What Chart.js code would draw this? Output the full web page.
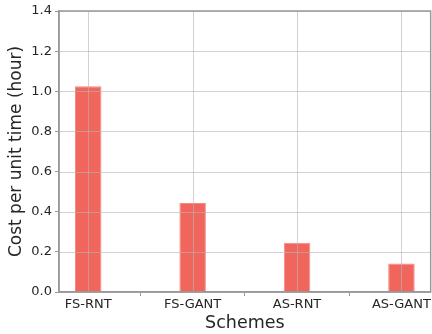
<!DOCTYPE html>
<html lang="en">
  <head>
    <meta charset="UTF-8" />
    <title>Cost per unit time</title>
    <script src="https://cdn.jsdelivr.net/npm/chart.js"></script>
    <style>
      body { margin: 0; background: #fff; }
      #wrap { width: 432px; height: 334px; }
    </style>
  </head>
  <body>
    <div id="wrap"><canvas id="chart"></canvas></div>
    <script>
      // data
      var schemes = ["FS-RNT", "FS-GANT", "AS-RNT", "AS-GANT"];
      var cost = [1.025, 0.443, 0.245, 0.142];
      var yTicks = [0, 0.2, 0.4, 0.6, 0.8, 1.0, 1.2, 1.4];

      var points = schemes.map(function (s, i) { return { x: i, y: cost[i] }; });

      // grid over the bars (like matplotlib), plus top/right spines
      var overlay = {
        id: "overlay",
        afterDatasetsDraw: function (chart) {
          var a = chart.chartArea, ctx = chart.ctx;
          var xs = chart.scales.x, ys = chart.scales.y;
          ctx.save();
          ctx.strokeStyle = "rgba(180,180,180,0.6)";
          ctx.lineWidth = 1;
          ctx.beginPath();
          schemes.forEach(function (n, i) {
            var px = Math.round(xs.getPixelForValue(i)) + 0.5;
            ctx.moveTo(px, a.top);
            ctx.lineTo(px, a.bottom);
          });
          yTicks.forEach(function (v) {
            var py = Math.round(ys.getPixelForValue(v)) + 0.5;
            ctx.moveTo(a.left, py);
            ctx.lineTo(a.right, py);
          });
          ctx.stroke();
          ctx.strokeStyle = "#999";
          ctx.lineWidth = 1.5;
          ctx.strokeRect(a.left, a.top, a.right - a.left, a.bottom - a.top);
          ctx.restore();
        }
      };

      new Chart(document.getElementById("chart"), {
        type: "bar",
        data: {
          datasets: [{
            data: points,
            backgroundColor: "#f1665c",
            borderColor: "#f48a82",
            borderWidth: 1,
            barPercentage: 0.254,
            categoryPercentage: 1
          }]
        },
        plugins: [overlay],
        options: {
          responsive: true,
          maintainAspectRatio: false,
          animation: false,
          layout: { padding: { top: 11, right: 1, left: 0, bottom: 0 } },
          plugins: { legend: { display: false }, tooltip: { enabled: false } },
          scales: {
            x: {
              type: "linear",
              min: -0.28,
              max: 3.28,
              offset: false,
              afterBuildTicks: function (s) {
                s.ticks = schemes.map(function (n, i) { return { value: i }; });
              },
              afterFit: function (s) { s.height = 42; },
              ticks: {
                color: "#262626",
                font: { family: "DejaVu Sans", size: 13 },
                padding: 1,
                maxRotation: 0,
                callback: function (v) { return schemes[v]; }
              },
              grid: { drawOnChartArea: false, tickLength: 4, tickColor: "#999" },
              border: { color: "#999", width: 1.5 },
              title: {
                display: true,
                text: "Schemes",
                color: "#262626",
                font: { family: "DejaVu Sans", size: 17.5 },
                padding: { top: 0, bottom: 0 }
              }
            },
            y: {
              min: 0,
              max: 1.4,
              afterBuildTicks: function (s) {
                s.ticks = yTicks.map(function (v) { return { value: v }; });
              },
              afterFit: function (s) { s.width = 59; },
              ticks: {
                color: "#262626",
                font: { family: "DejaVu Sans", size: 13 },
                padding: 3,
                callback: function (v) { return v.toFixed(1); }
              },
              grid: { drawOnChartArea: false, tickLength: 4, tickColor: "#999" },
              border: { color: "#999", width: 1.5 },
              title: {
                display: true,
                text: "Cost per unit time (hour)",
                color: "#262626",
                font: { family: "DejaVu Sans", size: 17 },
                padding: { top: 6, bottom: 0 }
              }
            }
          }
        }
      });
    </script>
  </body>
</html>
